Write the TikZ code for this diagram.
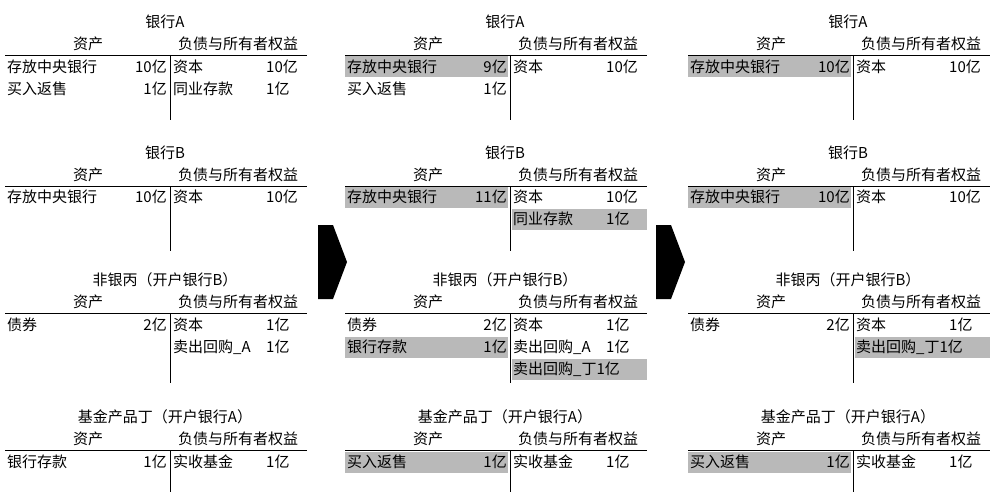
\documentclass[tikz,border=0pt]{standalone}
\usepackage{fontspec}
\setmainfont{Noto Sans CJK SC}
\begin{document}
\begin{tikzpicture}[x=1pt,y=-1pt,every node/.style={inner sep=0pt,font=\fontsize{15}{18}\selectfont},
  cell/.style={fill=gray!55,draw=none}, rule/.style={line width=0.8pt}]
\useasboundingbox (0,0) rectangle (995,500);
% account frame: xoff, yline, title, depth
\newcommand\acct[4]{%
  \node (t) at (#1+165,#2-33) {#3};
  \node (h1) at (#1+88,#2-11) {资产};
  \node (h2) at (#1+238,#2-11) {负债与所有者权益};
  \draw[rule] (#1+5,#2) -- (#1+307,#2);
  \draw[rule] (#1+170,#2) -- (#1+170,#2+#4);}
% left row: xoff, y, label, amount, shaded(1/0)
\newcommand\Lrow[5]{%
  \ifnum#5=1 \fill[cell] (#1+5,#2-10.5) rectangle (#1+168,#2+10.5);\fi
  \node[anchor=west] at (#1+7,#2) {#3};
  \node[anchor=east] at (#1+167,#2) {#4};}
\newcommand\Rrow[5]{%
  \ifnum#5=1 \fill[cell] (#1+172,#2-10.5) rectangle (#1+307,#2+10.5);\fi
  \node[anchor=west] at (#1+173,#2) {#3};
  \node[anchor=west] at (#1+266,#2) {#4};}
\newcommand\Rrowb[4]{%
  \ifnum#4=1 \fill[cell] (#1+172,#2-10.5) rectangle (#1+307,#2+10.5);\fi
  \node[anchor=west] at (#1+173,#2) {#3};}
% ---------- column 1
\Lrow{0}{67}{存放中央银行}{10亿}{0}\Lrow{0}{89}{买入返售}{1亿}{0}
\Rrow{0}{67}{资本}{10亿}{0}\Rrow{0}{89}{同业存款}{1亿}{0}
\acct{0}{55}{银行A}{65}
\Lrow{0}{197}{存放中央银行}{10亿}{0}\Rrow{0}{197}{资本}{10亿}{0}
\acct{0}{186}{银行B}{65}
\Lrow{0}{325}{债券}{2亿}{0}\Rrow{0}{325}{资本}{1亿}{0}\Rrow{0}{347}{卖出回购\_A}{1亿}{0}
\acct{0}{313}{非银丙（开户银行B）}{70}
\Lrow{0}{462}{银行存款}{1亿}{0}\Rrow{0}{462}{实收基金}{1亿}{0}
\acct{0}{450}{基金产品丁（开户银行A）}{42}
% ---------- column 2
\Lrow{340}{67}{存放中央银行}{9亿}{1}\Lrow{340}{89}{买入返售}{1亿}{0}
\Rrow{340}{67}{资本}{10亿}{0}
\acct{340}{55}{银行A}{65}
\Lrow{340}{197}{存放中央银行}{11亿}{1}\Rrow{340}{197}{资本}{10亿}{0}\Rrow{340}{219}{同业存款}{1亿}{1}
\acct{340}{186}{银行B}{65}
\Lrow{340}{325}{债券}{2亿}{0}\Lrow{340}{347}{银行存款}{1亿}{1}
\Rrow{340}{325}{资本}{1亿}{0}\Rrow{340}{347}{卖出回购\_A}{1亿}{0}\Rrowb{340}{369}{卖出回购\_丁1亿}{1}
\acct{340}{313}{非银丙（开户银行B）}{70}
\Lrow{340}{462}{买入返售}{1亿}{1}\Rrow{340}{462}{实收基金}{1亿}{0}
\acct{340}{450}{基金产品丁（开户银行A）}{42}
% ---------- column 3
\Lrow{683}{67}{存放中央银行}{10亿}{1}\Rrow{683}{67}{资本}{10亿}{0}
\acct{683}{55}{银行A}{65}
\Lrow{683}{197}{存放中央银行}{10亿}{1}\Rrow{683}{197}{资本}{10亿}{0}
\acct{683}{186}{银行B}{65}
\Lrow{683}{325}{债券}{2亿}{0}\Rrow{683}{325}{资本}{1亿}{0}\Rrowb{683}{347}{卖出回购\_丁1亿}{1}
\acct{683}{313}{非银丙（开户银行B）}{70}
\Lrow{683}{462}{买入返售}{1亿}{1}\Rrow{683}{462}{实收基金}{1亿}{0}
\acct{683}{450}{基金产品丁（开户银行A）}{42}
% ---------- arrows
\fill (318,225) -- (333,225) -- (347,262) -- (333,299) -- (318,299) -- cycle;
\fill (656,225) -- (671,225) -- (685,262) -- (671,299) -- (656,299) -- cycle;
\end{tikzpicture}
\end{document}
